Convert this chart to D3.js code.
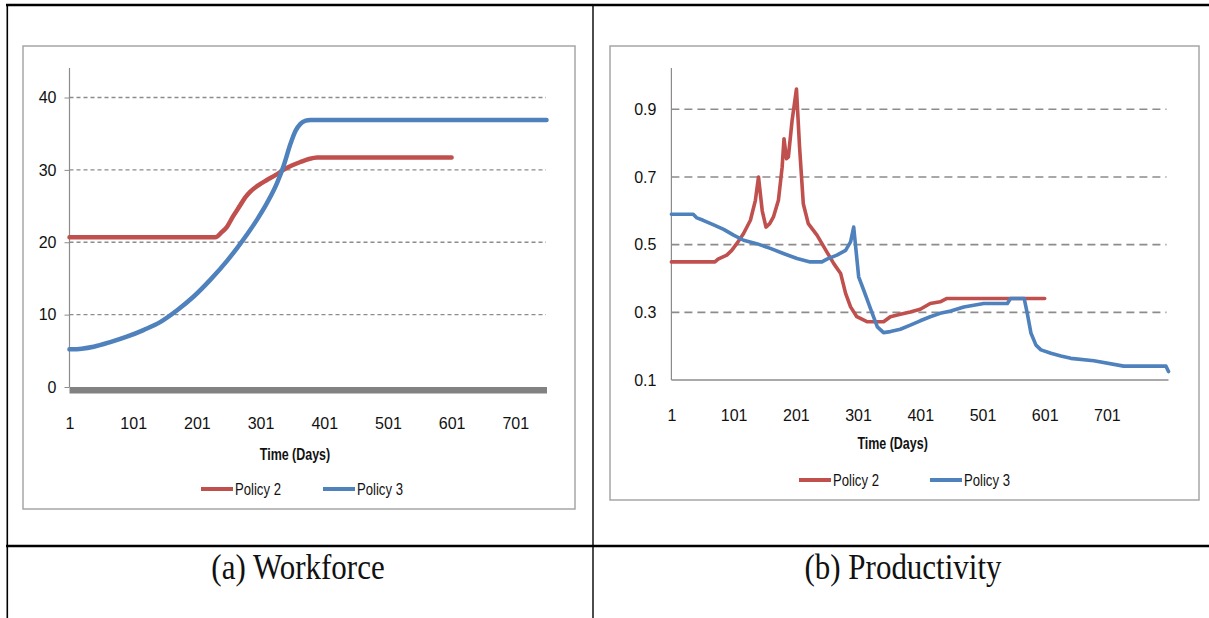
<!DOCTYPE html>
<html>
<head>
<meta charset="utf-8">
<script src="https://cdn.jsdelivr.net/npm/d3@7"></script>
<style>
  html, body { margin: 0; padding: 0; background: #fff; }
  svg { display: block; }
  .tick text { font-family: "Liberation Sans", Arial, sans-serif; fill: #111; }
</style>
</head>
<body>
<svg id="fig" width="1209" height="618"></svg>
<script>
// ---- Workforce (panel a) ----
const workDaysP2 = [1, 230, 240, 248, 258, 269, 277, 285, 298, 311, 325, 337, 350, 364, 377, 390, 601];
const workP2     = [20.7, 20.7, 21.4, 22.1, 23.6, 25.1, 26.2, 27.0, 27.9, 28.6, 29.3, 30.0, 30.6, 31.1, 31.5, 31.7, 31.7];
const workDaysP3 = [1, 20, 39, 65, 91, 118, 144, 170, 196, 222, 249, 265, 280, 296, 311, 327, 337, 348, 356, 364, 372, 379, 750];
const workP3     = [5.2, 5.3, 5.57, 6.2, 6.95, 7.9, 9.0, 10.6, 12.5, 14.8, 17.5, 19.3, 21.1, 23.2, 25.4, 28.2, 30.5, 33.6, 35.4, 36.4, 36.8, 36.9, 36.9];
const workYTicks = [0, 10, 20, 30, 40];

// ---- Productivity (panel b) ----
const prodDaysP2 = [1, 71, 76, 90, 98, 106, 117, 128, 136, 141, 147, 153, 159, 165, 173, 179, 182, 186, 189, 195, 202, 207, 213, 221, 235, 251, 262, 273, 281, 289, 299, 316, 342, 353, 369, 385, 401, 417, 433, 444, 601];
const prodP2     = [0.449, 0.449, 0.457, 0.469, 0.483, 0.503, 0.533, 0.572, 0.631, 0.700, 0.600, 0.552, 0.562, 0.582, 0.631, 0.729, 0.813, 0.754, 0.759, 0.867, 0.960, 0.788, 0.621, 0.562, 0.528, 0.478, 0.444, 0.415, 0.356, 0.316, 0.287, 0.272, 0.272, 0.287, 0.294, 0.301, 0.309, 0.326, 0.331, 0.341, 0.341];
const prodDaysP3 = [1, 36, 42, 52, 68, 85, 101, 117, 138, 160, 181, 203, 224, 243, 251, 267, 281, 289, 294, 302, 310, 316, 321, 332, 342, 353, 369, 385, 401, 417, 433, 450, 471, 503, 541, 546, 568, 573, 579, 587, 595, 611, 627, 643, 680, 728, 796, 800];
const prodP3     = [0.590, 0.590, 0.579, 0.572, 0.559, 0.545, 0.528, 0.513, 0.503, 0.489, 0.474, 0.459, 0.449, 0.449, 0.457, 0.469, 0.483, 0.508, 0.552, 0.405, 0.366, 0.336, 0.311, 0.257, 0.240, 0.243, 0.250, 0.262, 0.275, 0.287, 0.297, 0.304, 0.316, 0.326, 0.326, 0.341, 0.341, 0.297, 0.238, 0.203, 0.189, 0.179, 0.171, 0.164, 0.157, 0.141, 0.141, 0.125];
const prodYTicks = [0.1, 0.3, 0.5, 0.7, 0.9];

const dayTicks = [1, 101, 201, 301, 401, 501, 601, 701];
const seriesNames = ["Policy 2", "Policy 3"];
const seriesColors = ["#C0504D", "#4F81BD"];
const captions = ["(a) Workforce", "(b) Productivity"];

const sans = '"Liberation Sans", Arial, sans-serif';
const svg = d3.select("#fig");
svg.append("rect").attr("width", 1209).attr("height", 618).attr("fill", "#fff");

// zip parallel arrays into point lists
const zip = (xs, ys) => xs.map((d, i) => ({ day: d, v: ys[i] }));

// horizontally condensed label placed at (x, y)
function narrowText(g, x, y, str, opts) {
  return g.append("text")
    .attr("transform", `translate(${x},${y}) scale(${opts.sx},1)`)
    .attr("dy", "0.35em")
    .attr("text-anchor", opts.anchor || "start")
    .style("font-family", sans)
    .style("font-weight", opts.bold ? "bold" : "normal")
    .style("font-size", opts.size + "px")
    .attr("fill", "#111")
    .text(str);
}

function drawPanel(p) {
  const g = svg.append("g");
  // chart frame
  g.append("rect")
    .attr("x", p.box[0]).attr("y", p.box[1])
    .attr("width", p.box[2] - p.box[0]).attr("height", p.box[3] - p.box[1])
    .attr("fill", "#fff").attr("stroke", "#a6a6a6").attr("stroke-width", 1.5);

  const x = d3.scaleLinear().domain(p.xDomain).range(p.xRange);
  const y = d3.scaleLinear().domain(p.yDomain).range(p.yRange);

  // dashed horizontal gridlines
  g.append("g").selectAll("line")
    .data(p.yTicks.filter(t => t !== p.yTicks[0]))
    .join("line")
    .attr("x1", p.xRange[0]).attr("x2", p.gridEnd)
    .attr("y1", d => y(d)).attr("y2", d => y(d))
    .attr("stroke", "#8c8c8c").attr("stroke-width", p.gridWidth)
    .attr("stroke-dasharray", p.dash);

  // value axis
  const yAxis = g.append("g")
    .attr("transform", `translate(${p.xRange[0]},0)`)
    .call(d3.axisLeft(y).tickValues(p.yTicks).tickSize(p.yTickSize).tickPadding(p.yPad)
      .tickFormat(p.yFmt));
  yAxis.select(".domain").remove();
  yAxis.selectAll(".tick line").attr("stroke", "#8c8c8c");
  yAxis.selectAll(".tick text").style("font-size", "16px");
  g.append("line")
    .attr("x1", p.xRange[0]).attr("x2", p.xRange[0])
    .attr("y1", p.axisTop).attr("y2", y(p.yDomain[0]))
    .attr("stroke", "#8c8c8c").attr("stroke-width", 1.2);

  // category axis baseline
  if (p.thickBase) {
    g.append("rect")
      .attr("x", p.xRange[0]).attr("y", y(p.yDomain[0]))
      .attr("width", p.baseEnd - p.xRange[0]).attr("height", 6.5)
      .attr("fill", "#828282");
  } else {
    g.append("line")
      .attr("x1", p.xRange[0]).attr("x2", p.baseEnd)
      .attr("y1", y(p.yDomain[0])).attr("y2", y(p.yDomain[0]))
      .attr("stroke", "#8c8c8c").attr("stroke-width", 1.5);
  }

  const xAxis = g.append("g")
    .attr("transform", `translate(0,${p.xLabelY})`)
    .call(d3.axisBottom(x).tickValues(dayTicks).tickSize(0).tickPadding(0).tickFormat(d3.format("d")));
  xAxis.select(".domain").remove();
  xAxis.selectAll(".tick text").style("font-size", "16px").attr("dy", "0.35em");

  narrowText(g, p.titleX, p.titleY, "Time (Days)", { sx: 0.78, size: 16, bold: true, anchor: "middle" });

  // series lines
  const line = d3.line().x(d => x(d.day)).y(d => y(d.v)).curve(p.curve);
  p.series.forEach((s, i) => {
    g.append("path")
      .datum(s)
      .attr("d", line)
      .attr("fill", "none")
      .attr("stroke", seriesColors[i])
      .attr("stroke-width", p.lineWidth)
      .attr("stroke-linejoin", "round")
      .attr("stroke-linecap", "round");
  });

  // legend
  seriesNames.forEach((name, i) => {
    const lx = p.legendX[i];
    g.append("line")
      .attr("x1", lx).attr("x2", lx + 32)
      .attr("y1", p.legendY).attr("y2", p.legendY)
      .attr("stroke", seriesColors[i]).attr("stroke-width", 4);
    narrowText(g, lx + 34, p.legendY, name, { sx: 0.82, size: 16 });
  });
}

drawPanel({
  box: [23, 46, 575, 509],
  xDomain: [1, 750], xRange: [69.5, 546.5],
  yDomain: [0, 40], yRange: [387, 97.5],
  yTicks: workYTicks, yFmt: d3.format("d"), yTickSize: 5, yPad: 8,
  axisTop: 68, gridEnd: 546, baseEnd: 547, thickBase: true,
  gridWidth: 1.3, dash: "4,3",
  xLabelY: 423, titleX: 295, titleY: 454,
  series: [zip(workDaysP2, workP2), zip(workDaysP3, workP3)],
  curve: d3.curveMonotoneX, lineWidth: 4.5,
  legendX: [201, 323], legendY: 489
});

drawPanel({
  box: [610, 46, 1199, 500],
  xDomain: [1, 800], xRange: [671.4, 1168.5],
  yDomain: [0.1, 0.9], yRange: [380, 109.3],
  yTicks: prodYTicks, yFmt: d3.format(".1f"), yTickSize: 0, yPad: 15,
  axisTop: 68, gridEnd: 1166.5, baseEnd: 1168.5, thickBase: false,
  gridWidth: 1.6, dash: "8,5",
  xLabelY: 415, titleX: 892.6, titleY: 443,
  series: [zip(prodDaysP2, prodP2), zip(prodDaysP3, prodP3)],
  curve: d3.curveLinear, lineWidth: 3.6,
  legendX: [799, 930], legendY: 480
});

// surrounding table rules
const rule = (x1, y1, x2, y2, w) => svg.append("line")
  .attr("x1", x1).attr("y1", y1).attr("x2", x2).attr("y2", y2)
  .attr("stroke", "#000").attr("stroke-width", w);
rule(6, 5, 1209, 5, 2.5);
rule(7.3, 4, 7.3, 618, 1.6);
rule(593, 5, 593, 618, 1.4);
rule(6, 546, 1209, 546, 2.5);

// captions
[298, 903].forEach((cx, i) => {
  svg.append("text")
    .attr("transform", `translate(${cx},579) scale(1,1.15)`)
    .attr("text-anchor", "middle")
    .style("font-family", '"Liberation Serif", "DejaVu Serif", serif')
    .style("font-size", "31px")
    .attr("fill", "#111")
    .text(captions[i]);
});
</script>
</body>
</html>
